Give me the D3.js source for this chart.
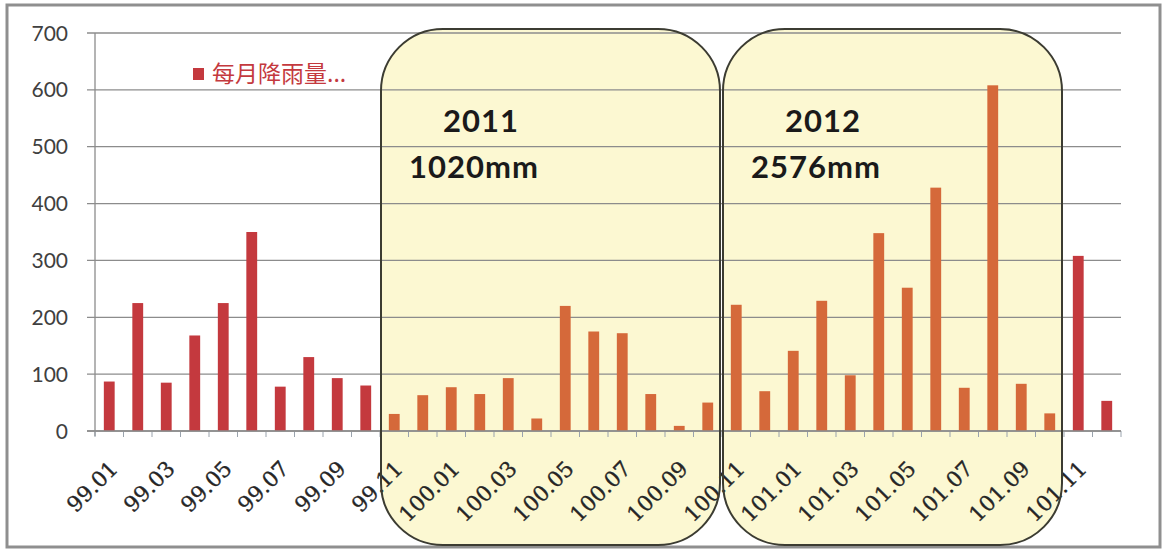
<!DOCTYPE html>
<html>
<head>
<meta charset="utf-8">
<script src="https://cdn.jsdelivr.net/npm/d3@7"></script>
<style>
  html, body { margin: 0; padding: 0; background: #fff; }
  svg { display: block; }
</style>
</head>
<body>
<svg id="chart" width="1166" height="549"></svg>
<script>
// Monthly rainfall, ROC years 99–101 (mm)
const months = [
  "99.01","99.02","99.03","99.04","99.05","99.06","99.07","99.08","99.09","99.10","99.11","99.12",
  "100.01","100.02","100.03","100.04","100.05","100.06","100.07","100.08","100.09","100.10","100.11","100.12",
  "101.01","101.02","101.03","101.04","101.05","101.06","101.07","101.08","101.09","101.10","101.11","101.12"
];
const rainfall = [
  87, 225, 85, 168, 225, 350, 78, 130, 93, 80, 30, 63,
  77, 65, 93, 22, 220, 175, 172, 65, 9, 50, 222, 70,
  141, 229, 98, 348, 252, 428, 76, 608, 83, 31, 308, 53
];
const yTicks = [0, 100, 200, 300, 400, 500, 600, 700];
const seriesName = "每月降雨量...";

// Highlighted yearly spans: first and last month covered, with their captions
const spanStart = ["99.11", "100.11"];
const spanEnd   = ["100.10", "101.10"];
const spanYear  = ["2011", "2012"];
const spanTotal = ["1020mm", "2576mm"];

const svg = d3.select("#chart");
const plot = { left: 95, right: 1121, top: 33, bottom: 431 };

const x = d3.scaleBand().domain(months).range([plot.left, plot.right]).paddingInner(0.62).paddingOuter(0.31);
const xb = d3.scaleBand().domain(months).range([plot.left, plot.right]);
const y = d3.scaleLinear().domain([0, 700]).range([plot.bottom, plot.top]);

// Outer frame
svg.append("rect")
  .attr("x", 7).attr("y", 5).attr("width", 1153).attr("height", 542)
  .attr("fill", "#fff").attr("stroke", "#8f8f8f").attr("stroke-width", 3);

// Yellow rounded panels behind the data
const panels = spanStart.map((s, i) => ({
  x0: xb(s) + 1, x1: xb(spanEnd[i]) + xb.bandwidth() - 2,
  year: spanYear[i], total: spanTotal[i]
}));
const panelTop = 29, panelBottom = 545, panelR = 62;
svg.append("g").selectAll("rect").data(panels).join("rect")
  .attr("x", d => d.x0).attr("y", panelTop)
  .attr("width", d => d.x1 - d.x0).attr("height", panelBottom - panelTop)
  .attr("rx", panelR).attr("ry", panelR)
  .attr("fill", "#fcf8d2");

// Gridlines
svg.append("g").selectAll("line").data(yTicks).join("line")
  .attr("x1", plot.left - 8).attr("x2", plot.right)
  .attr("y1", d => y(d)).attr("y2", d => y(d))
  .attr("stroke", "#8c8c8c").attr("stroke-width", 1.3);

// Y axis line
svg.append("line")
  .attr("x1", plot.left).attr("x2", plot.left)
  .attr("y1", plot.top).attr("y2", plot.bottom + 5)
  .attr("stroke", "#8c8c8c").attr("stroke-width", 1.3);

// Y tick labels
svg.append("g").selectAll("text").data(yTicks).join("text")
  .attr("x", 68).attr("y", d => y(d)).attr("dy", "0.36em")
  .attr("text-anchor", "end")
  .attr("font-family", "Lato, 'Open Sans', sans-serif")
  .attr("font-size", 21)
  .attr("fill", "#404040")
  .text(d => d);

// X tick marks at category boundaries
const bounds = months.map(m => xb(m)).concat([plot.right]);
svg.append("g").selectAll("line").data(bounds).join("line")
  .attr("x1", d => d).attr("x2", d => d)
  .attr("y1", plot.bottom).attr("y2", plot.bottom + 6)
  .attr("stroke", "#9aa3ad").attr("stroke-width", 1);

// Bars: inside a panel they take the warmer tone
const inPanel = m => {
  const i = months.indexOf(m);
  return spanStart.some((s, k) => i >= months.indexOf(s) && i <= months.indexOf(spanEnd[k]));
};
svg.append("g").selectAll("rect").data(months).join("rect")
  .attr("x", m => x(m))
  .attr("y", (m, i) => y(rainfall[i]))
  .attr("width", x.bandwidth())
  .attr("height", (m, i) => y(0) - y(rainfall[i]))
  .attr("fill", m => inPanel(m) ? "#d5693a" : "#c4393e");

// X axis baseline
svg.append("line")
  .attr("x1", plot.left - 8).attr("x2", plot.right)
  .attr("y1", plot.bottom).attr("y2", plot.bottom)
  .attr("stroke", "#8c8c8c").attr("stroke-width", 1.3);

// Rotated category labels, every other month
svg.append("g").selectAll("text").data(months.filter((m, i) => i % 2 === 0)).join("text")
  .attr("transform", m => `translate(${xb(m) + xb.bandwidth() / 2 + 10},${plot.bottom + 39}) rotate(-45)`)
  .attr("text-anchor", "end")
  .attr("font-family", "'DejaVu Serif', serif")
  .attr("font-size", 21.5)
  .attr("fill", "#262626")
  .attr("stroke", "#262626")
  .attr("stroke-width", 0.35)
  .text(m => m);

// Panel outlines on top
svg.append("g").selectAll("rect").data(panels).join("rect")
  .attr("x", d => d.x0).attr("y", panelTop)
  .attr("width", d => d.x1 - d.x0).attr("height", panelBottom - panelTop)
  .attr("rx", panelR).attr("ry", panelR)
  .attr("fill", "none").attr("stroke", "#3c3c32").attr("stroke-width", 2);

// Panel captions
const cap = svg.append("g")
  .attr("font-family", "Lato, 'Open Sans', sans-serif")
  .attr("font-weight", "bold")
  .attr("font-size", 31)
  .attr("letter-spacing", 1)
  .attr("fill", "#1a1a1a");
cap.selectAll("text.year").data(panels).join("text").attr("class", "year")
  .attr("x", d => d.x0 + 62).attr("y", 132).text(d => d.year);
cap.selectAll("text.total").data(panels).join("text").attr("class", "total")
  .attr("x", d => d.x0 + 28).attr("y", 178).text(d => d.total);

// Legend
svg.append("rect").attr("x", 193).attr("y", 68).attr("width", 11).attr("height", 12).attr("fill", "#c4393e");
svg.append("text")
  .attr("x", 212).attr("y", 82)
  .attr("font-family", "'Noto Sans CJK TC', 'Noto Sans CJK SC', sans-serif")
  .attr("font-size", 23)
  .attr("fill", "#c4393e")
  .text(seriesName);
</script>
</body>
</html>
